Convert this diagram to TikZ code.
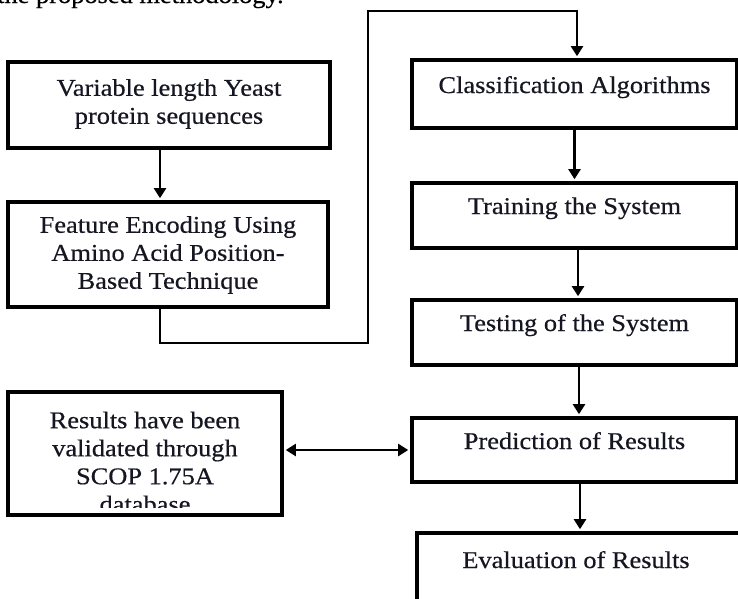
\documentclass[tikz,border=0pt]{standalone}
\usepackage{fontspec}
\setmainfont{Liberation Serif}[FakeStretch=1.1,FakeBold=0.5]
\usetikzlibrary{arrows.meta}
\definecolor{ink}{RGB}{22,22,34}
\begin{document}
\begin{tikzpicture}[x=1pt,y=-1pt,
  stepbox/.style={draw=black, line width=4pt, inner sep=0pt},
  caption/.style={text=ink, font=\fontsize{24}{28}\selectfont, align=center,
    inner sep=0pt, text height=17pt, text depth=5pt},
  captionblock/.style={text=ink, font=\fontsize{24}{28}\selectfont, align=center,
    inner sep=0pt},
  link/.style={draw=black, line width=2.2pt,
    -{Triangle[length=10pt,width=12pt]}, shorten >=1.8pt},
  twoway/.style={draw=black, line width=2.2pt,
    {Triangle[length=10pt,width=12pt]}-{Triangle[length=10pt,width=12pt]},
    shorten >=1.8pt, shorten <=1.8pt}
]
\useasboundingbox (0,0) rectangle (738,598);
\fill[white] (0,0) rectangle (738,598);

% running text above the flow chart
\node[anchor=base west, inner sep=0pt, text=black,
  font=\fontsize{24}{28}\selectfont] (intro) at (-3,3) {the proposed methodology.};

% left column
\node[stepbox, minimum width=322, minimum height=86] (seq) at (169,105) {};
\node[captionblock] (seqT) at (169,104) {Variable length Yeast\\protein sequences};

\node[stepbox, minimum width=320, minimum height=105] (enc) at (168,254.5) {};
\node[captionblock] (encT) at (168,255) {Feature Encoding Using\\Amino Acid Position-\\Based Technique};

\node[stepbox, minimum width=274, minimum height=123] (res) at (145,453.5) {};
\begin{scope}
  \clip (res.north west) rectangle ([yshift=10pt]res.south east);
  \node[captionblock] (resT) at (145,462) {Results have been\\validated through\\SCOP 1.75A\\database};
\end{scope}

% right column
\node[stepbox, minimum width=325, minimum height=68] (cls) at (574.5,94) {};
\node[caption] (clsT) at (574.5,87) {Classification Algorithms};

\node[stepbox, minimum width=325, minimum height=65] (trn) at (574.5,215.5) {};
\node[caption] (trnT) at (574.5,208) {Training the System};

\node[stepbox, minimum width=325, minimum height=65] (tst) at (574.5,332.5) {};
\node[caption] (tstT) at (574.5,325) {Testing of the System};

\node[stepbox, minimum width=325, minimum height=64] (prd) at (574.5,450) {};
\node[caption] (prdT) at (574.5,443) {Prediction of Results};

\node[stepbox, minimum width=328, minimum height=77] (evl) at (581,571.5) {};
\node[caption] (evlT) at (576,562) {Evaluation of Results};

% route from the encoding step over to the classifiers
\coordinate (bendA) at (160,343);
\coordinate (bendB) at (368,343);
\coordinate (bendC) at (368,11);
\coordinate (bendD) at (577,11);

\draw[link] (seq.south -| bendA) -- (enc.north -| bendA);
\draw[link] (enc.south -| bendA) -- (bendA) -- (bendB) -- (bendC) -- (bendD)
  -- (cls.north -| bendD);

\draw[link] (cls.south) -- (trn.north);
\draw[link] ([xshift=3.5pt]trn.south) -- ([xshift=3.5pt]tst.north);
\draw[link] ([xshift=4.5pt]tst.south) -- ([xshift=4.5pt]prd.north);
\draw[link] ([xshift=5.5pt]prd.south) -- ([xshift=5.5pt]prd.south |- evl.north);

\draw[twoway] (res.east |- prd.west) -- (prd.west);
\end{tikzpicture}
\end{document}
